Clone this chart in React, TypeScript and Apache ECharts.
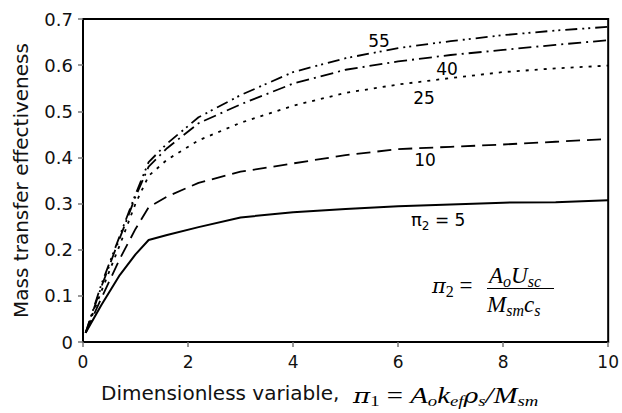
import React, { useEffect, useRef } from "react";
import * as echarts from "echarts";

// ---- data ----
const xValues = [0.05, 0.35, 0.7, 1.0, 1.25, 1.6, 2.2, 3, 4, 5, 6, 7, 8, 9, 10];
const pi2_5 = [0.02, 0.08, 0.145, 0.19, 0.221, 0.232, 0.249, 0.27, 0.281, 0.288, 0.294, 0.298, 0.302, 0.303, 0.307];
const pi2_10 = [0.02, 0.095, 0.18, 0.245, 0.292, 0.315, 0.345, 0.369, 0.387, 0.405, 0.418, 0.423, 0.428, 0.434, 0.44];
const pi2_25 = [0.02, 0.11, 0.21, 0.3, 0.36, 0.395, 0.437, 0.475, 0.512, 0.54, 0.558, 0.572, 0.585, 0.593, 0.599];
const pi2_40 = [0.02, 0.12, 0.225, 0.315, 0.38, 0.42, 0.474, 0.515, 0.56, 0.59, 0.608, 0.622, 0.633, 0.644, 0.654];
const pi2_55 = [0.02, 0.125, 0.23, 0.32, 0.39, 0.43, 0.487, 0.535, 0.585, 0.615, 0.637, 0.652, 0.665, 0.675, 0.683];
const seriesNames = ["π2 = 5", "π2 = 10", "π2 = 25", "π2 = 40", "π2 = 55"];
const yTicks = ["0", "0.1", "0.2", "0.3", "0.4", "0.5", "0.6", "0.7"];

const SANS = '"DejaVu Sans"';
const SERIF = '"Liberation Serif"';
const GREEK = '"DejaVu Serif"';

let ctx: CanvasRenderingContext2D | null = null;
function measure(t: string, font: string) {
  if (!ctx) ctx = document.createElement("canvas").getContext("2d");
  ctx!.font = font;
  return ctx!.measureText(t).width;
}

type Tok = { t: string; size: number; it?: boolean; fam?: string; dy?: number; gap?: number };
function layout(tokens: Tok[], x0: number, base: number) {
  let x = x0;
  const out: any[] = [];
  for (const tk of tokens) {
    const fam = tk.fam || SERIF;
    const font = `${tk.it ? "italic " : ""}${tk.size}px ${fam}`;
    const bl = base + (tk.dy || 0);
    out.push({
      type: "text",
      x,
      y: bl - 0.34 * tk.size,
      silent: true,
      style: { text: tk.t, font, fill: "#000", align: "left", verticalAlign: "middle" },
    });
    x += measure(tk.t, font) + (tk.gap || 0);
  }
  return out;
}

export default function App() {
  const ref = useRef<HTMLDivElement>(null);
  useEffect(() => {
    const chart = echarts.init(ref.current!, null, { renderer: "svg" });
    const pair = (ys: number[]) => xValues.map((x, i) => [x, ys[i]]);
    const styles: any[] = [
      "solid",
      [14, 7],
      [3, 6],
      [13, 5, 2, 5],
      [12, 5, 2, 4, 2, 5],
    ];
    const all = [pi2_5, pi2_10, pi2_25, pi2_40, pi2_55];

    const label = (t: string, cx: number, cy: number) => ({
      type: "text",
      x: cx,
      y: cy,
      silent: true,
      style: { text: t, font: `17px ${SANS}`, fill: "#000", align: "center", verticalAlign: "middle" },
    });

    const pi5 = layout(
      [
        { t: "π", size: 18, fam: SANS },
        { t: "2", size: 12, fam: SANS, dy: 4 },
        { t: " = 5", size: 17, fam: SANS },
      ],
      411,
      226
    );

    const M = 23, S = 16, D = 4;
    const xMath = layout(
      [
        { t: "π", size: 21, it: true, fam: GREEK },
        { t: "1", size: 15, dy: 3 },
        { t: " = ", size: M },
        { t: "A", size: M, it: true },
        { t: "o", size: 15, it: true, dy: 3 },
        { t: "k", size: M, it: true },
        { t: "ef", size: 15, it: true, dy: 3 },
        { t: "ρ", size: 20, it: true, fam: GREEK },
        { t: "s", size: 15, it: true, dy: 3 },
        { t: "/", size: M, it: true },
        { t: "M", size: M, it: true },
        { t: "sm", size: 15, it: true, dy: 3 },
      ],
      0,
      403
    );

    const formulaLeft = layout(
      [
        { t: "π", size: 21, it: true, fam: GREEK },
        { t: "2", size: S, dy: D },
        { t: " = ", size: M },
      ],
      432,
      293
    );
    const numer = layout(
      [
        { t: "A", size: M, it: true },
        { t: "o", size: S, it: true, dy: D },
        { t: "U", size: M, it: true },
        { t: "sc", size: S, it: true, dy: D },
      ],
      489,
      283
    );
    const denom = layout(
      [
        { t: "M", size: M, it: true },
        { t: "sm", size: S, it: true, dy: D },
        { t: "c", size: M, it: true },
        { t: "s", size: S, it: true, dy: D },
      ],
      487,
      312
    );

    chart.setOption({
      animation: false,
      backgroundColor: "#fff",
      grid: { left: 83, right: 13, top: 19, bottom: 71, show: true, borderColor: "#000", borderWidth: 2, backgroundColor: "transparent" },
      xAxis: {
        type: "value",
        min: 0,
        max: 10,
        interval: 2,
        axisLine: { lineStyle: { color: "#000", width: 2 } },
        axisTick: { inside: false, length: 5, lineStyle: { color: "#777", width: 1.5 } },
        axisLabel: { fontSize: 17, fontFamily: "DejaVu Sans", color: "#111", margin: 11 },
        splitLine: { show: false },
      },
      yAxis: {
        type: "value",
        min: 0,
        max: 0.7,
        interval: 0.1,
        name: "Mass transfer effectiveness",
        nameLocation: "middle",
        nameGap: 52,
        nameTextStyle: { fontSize: 20, fontFamily: "DejaVu Sans", color: "#111" },
        axisLine: { lineStyle: { color: "#000", width: 2 } },
        axisTick: { inside: false, length: 5, lineStyle: { color: "#777", width: 1.5 } },
        axisLabel: {
          fontSize: 18,
          fontFamily: "DejaVu Sans",
          color: "#111",
          margin: 10,
          formatter: (v: number) => yTicks[Math.round(v * 10)] ?? String(v),
        },
        splitLine: { show: false },
      },
      series: all.map((ys, i) => ({
        type: "line",
        name: seriesNames[i],
        data: pair(ys),
        symbol: "none",
        showSymbol: false,
        smooth: false,
        lineStyle: { color: "#000", width: i === 0 ? 2 : 1.8, type: styles[i], cap: "butt" },
      })),
      graphic: {
        elements: [
          label("55", 379, 41),
          label("40", 447, 69),
          label("25", 424, 98),
          label("10", 425, 160),
          ...pi5,
          {
            type: "text",
            x: 101,
            y: 400 - 0.34 * 20,
            silent: true,
            style: { text: "Dimensionless variable, ", font: `20px ${SANS}`, fill: "#111", align: "left", verticalAlign: "middle" },
          },
          { type: "group", x: 353, y: 0, scaleX: 1.25, children: xMath },
          ...formulaLeft,
          ...numer,
          { type: "line", silent: true, shape: { x1: 487, y1: 288.5, x2: 554, y2: 288.5 }, style: { stroke: "#000", lineWidth: 1.2 } },
          ...denom,
        ],
      },
    });
    return () => chart.dispose();
  }, []);
  return <div ref={ref} style={{ position: "fixed", left: 0, top: 0, width: 622, height: 413 }} />;
}
